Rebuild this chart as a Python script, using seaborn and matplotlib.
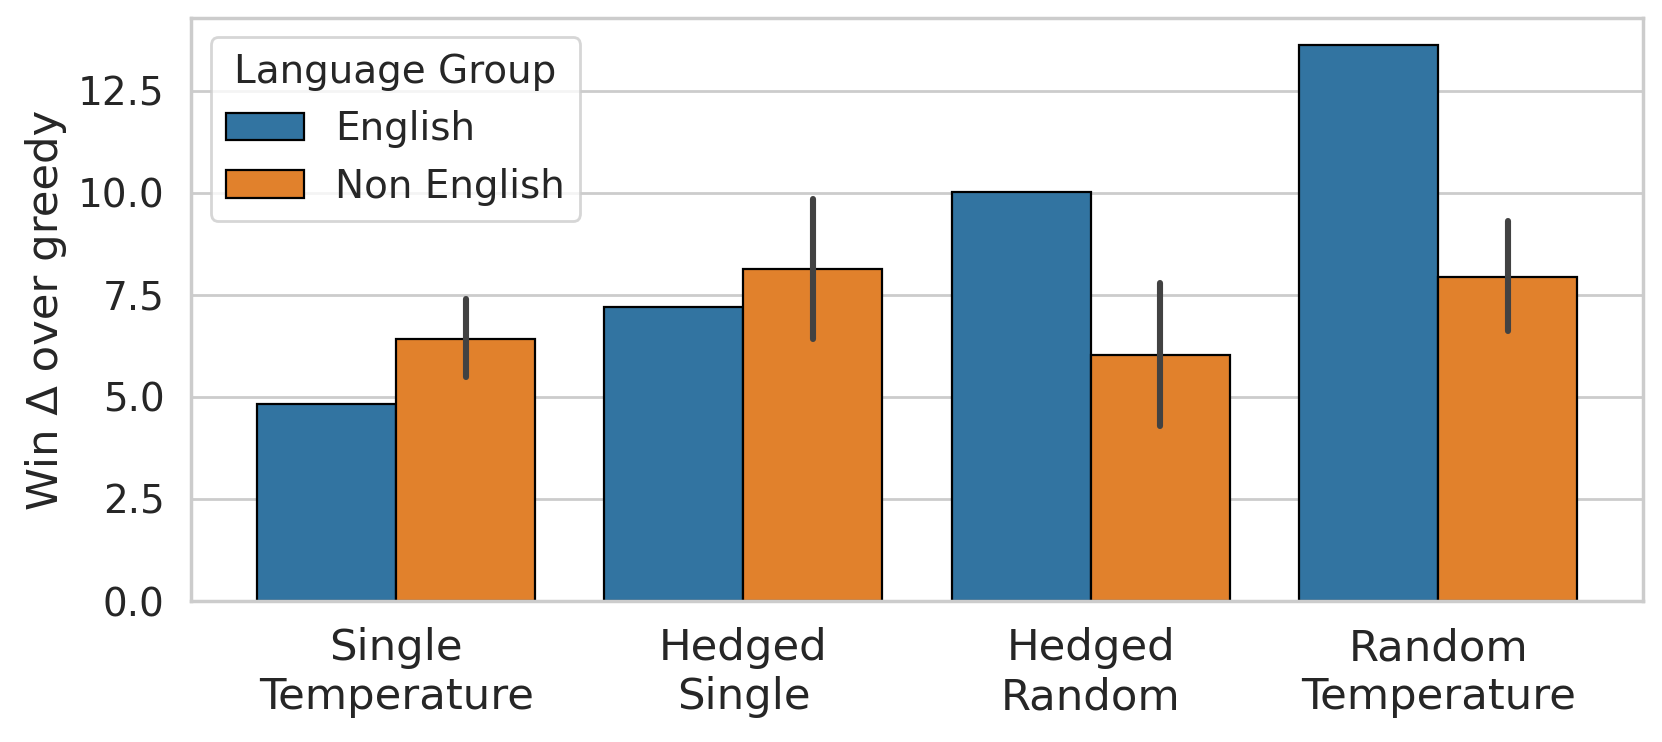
import pandas as pd
import matplotlib
matplotlib.use("Agg")
import matplotlib.pyplot as plt
import seaborn as sns

# values
strategies = ["Single\nTemperature", "Hedged\nSingle", "Hedged\nRandom", "Random\nTemperature"]
english = [4.82, 7.21, 10.01, 13.62]
non_english = [6.43, 8.14, 6.02, 7.94]
non_english_lo = [5.50, 6.43, 4.28, 6.61]
non_english_hi = [7.39, 9.85, 7.78, 9.31]
groups = ["English", "Non English"]

df = pd.DataFrame({
    "Strategy": strategies * 2,
    "Language Group": [groups[0]] * 4 + [groups[1]] * 4,
    "Win": english + non_english,
})

sns.set_theme(style="whitegrid", palette="tab10")
plt.rcParams["font.family"] = ["DejaVu Sans"]

fig, ax = plt.subplots(figsize=(8.31, 3.71), dpi=200)
fig.subplots_adjust(left=0.115, right=0.9886, top=0.976, bottom=0.19)

sns.barplot(data=df, x="Strategy", y="Win", hue="Language Group",
            errorbar=None, edgecolor="black", linewidth=0.8, ax=ax)

# error bars for the non english bars, placed on the bars seaborn drew
ne_bars = ax.containers[1]
for bar, lo, hi in zip(ne_bars, non_english_lo, non_english_hi):
    xc = bar.get_x() + bar.get_width() / 2
    ax.plot([xc, xc], [lo, hi], color=".26", linewidth=2.2,
            solid_capstyle="round", zorder=3)

ax.set_xlabel("")
ax.set_ylabel("Win Δ over greedy", fontsize=15.6)
ax.tick_params(axis="x", labelsize=15.6)
ax.tick_params(axis="y", labelsize=14)
ax.set_yticks([0, 2.5, 5, 7.5, 10, 12.5])
ax.set_ylim(0, 14.29)
for s in ax.spines.values():
    s.set_visible(True)
    s.set_color("#cccccc")

leg = ax.legend(title="Language Group", loc="upper left", fontsize=14,
                title_fontsize=14)

fig.savefig("out.png", dpi=200)
